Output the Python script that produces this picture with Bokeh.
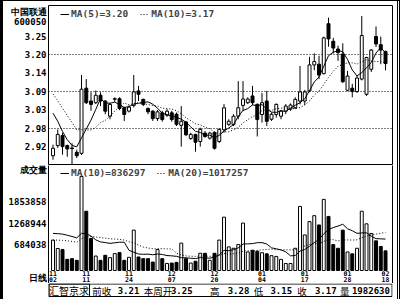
import numpy as np
from bokeh.plotting import figure
from bokeh.models import (ColumnDataSource, Range1d, FixedTicker, Legend,
                          LegendItem, LinearAxis)
from bokeh.layouts import column
from bokeh.embed import file_html
from bokeh.resources import INLINE
from bokeh.core.properties import value

# ---------------- data ----------------
stock_name = "中国联通"
stock_code = "600050"
brand = "汇智京求"
vol_title = "成交量"
period_title = "日线"

dates = ["11/02", "11/03", "11/04", "11/05", "11/08", "11/09", "11/10", "11/11", "11/12",
         "11/15", "11/16", "11/17", "11/18", "11/19", "11/22", "11/23", "11/24", "11/25",
         "11/26", "11/29", "11/30", "12/01", "12/02", "12/03", "12/06", "12/07", "12/08",
         "12/09", "12/10", "12/13", "12/14", "12/15", "12/16", "12/17", "12/20", "12/21",
         "12/22", "12/23", "12/24", "12/27", "12/28", "12/29", "12/30", "12/31", "01/04",
         "01/05", "01/06", "01/07", "01/10", "01/11", "01/12", "01/13", "01/14", "01/17",
         "01/18", "01/19", "01/20", "01/21", "01/24", "01/25", "01/26", "01/27", "01/28",
         "01/31", "02/01", "02/02", "02/03", "02/04", "02/16", "02/17", "02/18"]

opens = [2.897, 2.927, 2.957, 2.927, 2.920, 2.907, 2.904, 3.097, 3.059, 3.054,
         3.076, 3.059, 3.014, 3.064, 3.066, 3.039, 3.029, 3.046, 3.089, 3.064,
         3.037, 3.029, 3.007, 3.024, 3.017, 3.024, 3.020, 2.987, 2.997, 2.948,
         2.960, 2.939, 2.964, 2.949, 2.966, 2.939, 2.974, 2.990, 2.989, 3.014,
         3.046, 3.054, 3.074, 3.049, 3.019, 3.059, 3.005, 3.019, 3.014, 3.029,
         3.035, 3.039, 3.059, 3.059, 3.089, 3.166, 3.168, 3.140, 3.288, 3.236,
         3.213, 3.198, 3.091, 3.097, 3.087, 3.124, 3.079, 3.153, 3.250, 3.226,
         3.206]
highs = [2.930, 2.975, 2.965, 2.930, 2.934, 2.915, 3.136, 3.124, 3.085, 3.090,
         3.085, 3.062, 3.054, 3.070, 3.070, 3.042, 3.046, 3.136, 3.104, 3.066,
         3.040, 3.032, 3.032, 3.030, 3.035, 3.030, 3.025, 3.044, 3.000, 2.965,
         2.962, 2.980, 2.970, 2.968, 2.969, 2.978, 3.050, 3.005, 3.020, 3.118,
         3.118, 3.070, 3.104, 3.052, 3.083, 3.089, 3.025, 3.052, 3.032, 3.050,
         3.052, 3.070, 3.163, 3.092, 3.190, 3.200, 3.193, 3.250, 3.306, 3.246,
         3.223, 3.230, 3.148, 3.110, 3.136, 3.311, 3.190, 3.213, 3.280, 3.250,
         3.208]
lows = [2.885, 2.920, 2.900, 2.894, 2.870, 2.890, 2.899, 3.050, 3.030, 3.050,
        3.044, 3.020, 3.005, 3.056, 3.032, 3.000, 3.025, 3.040, 3.059, 3.044,
        3.020, 3.000, 3.000, 2.998, 3.012, 2.998, 2.985, 2.924, 2.955, 2.944,
        2.909, 2.924, 2.950, 2.945, 2.915, 2.935, 2.965, 2.985, 2.985, 3.005,
        3.029, 3.050, 3.047, 2.954, 2.995, 2.985, 3.000, 3.010, 3.005, 3.020,
        3.030, 3.035, 3.049, 3.047, 3.085, 3.150, 3.124, 3.138, 3.220, 3.200,
        3.178, 3.113, 3.088, 3.070, 3.083, 3.120, 3.074, 3.145, 3.219, 3.168,
        3.150]
closes = [2.919, 2.960, 2.924, 2.917, 2.918, 2.897, 3.094, 3.054, 3.049, 3.076,
          3.059, 3.029, 3.049, 3.066, 3.037, 3.019, 3.041, 3.086, 3.079, 3.049,
          3.027, 3.007, 3.027, 3.004, 3.029, 3.004, 2.990, 2.999, 2.959, 2.960,
          2.937, 2.975, 2.954, 2.964, 2.919, 2.975, 3.039, 2.999, 3.014, 3.039,
          3.065, 3.065, 3.054, 3.004, 3.054, 2.999, 3.020, 3.049, 3.029, 3.044,
          3.047, 3.064, 3.086, 3.086, 3.166, 3.176, 3.136, 3.246, 3.243, 3.216,
          3.203, 3.116, 3.133, 3.087, 3.127, 3.253, 3.188, 3.210, 3.228, 3.210,
          3.170]
volumes = [821000, 594000, 566000, 301000, 320000, 274000, 2540000, 1600000, 867000, 391000,
           274000, 410000, 347000, 456000, 483000, 274000, 356000, 1090000, 365000, 320000,
           320000, 228000, 566000, 320000, 190000, 200000, 220000, 740000, 320000, 200000,
           250000, 465000, 465000, 274000, 465000, 821000, 1440000, 638000, 600000, 700000,
           1280000, 500000, 547000, 520000, 480000, 450000, 400000, 380000, 300000, 190000,
           190000, 600000, 1730000, 960000, 1320000, 1480000, 1230000, 1920000, 1460000, 700000,
           600000, 1090000, 500000, 450000, 600000, 1600000, 1260000, 1000000, 800000, 650000,
           530000]
# sessions before the window (only feed the moving averages)
prior_closes = [3.160, 3.150, 3.130, 3.120, 3.125, 3.080, 3.074, 3.040, 3.002]
prior_volumes = [600000, 700000, 550000, 650000, 720000, 600000, 680000, 640000, 620000, 660000,
                 640000, 700000, 600000, 650000, 665000, 1300000, 1700000, 1500000, 1424000]

price_ticks = [3.25, 3.1955, 3.141, 3.0865, 3.032, 2.9775, 2.923]
price_tick_labels = ["3.25", "3.20", "3.14", "3.09", "3.03", "2.98", "2.92"]
price_grid = [3.1955, 3.0865, 2.9775]
vol_ticks = [684038, 1268944, 1853858]
date_tick_idx = [0, 7, 16, 25, 34, 44, 53, 62, 70]
price_ma_text = ["MA(5)=3.20", "MA(10)=3.17"]
vol_ma_text = ["MA(10)=836297", "MA(20)=1017257"]
status_names = ["前收", "本周开", "高", "低", "收", "量"]
status_values = ["3.21", "3.25", "3.28", "3.15", "3.17", "1982630"]


def moving_avg(prior, vals, n):
    allv = np.array(list(prior) + list(vals), dtype=float)
    off = len(prior)
    return [float(allv[off + k - n + 1: off + k + 1].mean()) for k in range(len(vals))]


# ---------------- layout / styling ----------------
W = 394
MONO = "DejaVu Sans Mono"
CJK = "Noto Sans CJK SC"
BODY_W = 0.62
PRICE_RANGE = (2.868, 3.342)
VOL_RANGE = (-351000, 2.835e6)
# vertical anchors for the captions of the left column and the date rows
name_pos = 3.324
code_pos = 3.2944
vol_caption_pos = 2.7135e6
period_caption_pos = -189000
month_row_y = -89000
day_row_y = -235000

idx = list(range(len(closes)))
up = [c >= o for o, c in zip(opens, closes)]
src = ColumnDataSource(dict(
    x=idx, o=opens, h=highs, l=lows, c=closes, v=volumes,
    top=[max(o, c) for o, c in zip(opens, closes)],
    bottom=[min(o, c) for o, c in zip(opens, closes)],
    fill=["white" if u else "black" for u in up],
))

x_range = Range1d(-0.95, 71.47)


def style_axis(ax):
    ax.major_tick_line_color = None
    ax.minor_tick_line_color = None
    ax.major_tick_out = 0
    ax.major_tick_in = 0
    ax.major_label_standoff = 2
    ax.major_label_text_font = MONO
    ax.major_label_text_font_style = "bold"
    ax.major_label_text_font_size = "9px"
    ax.major_label_text_color = "black"


# ---------------- price panel ----------------
p1 = figure(width=W, height=164, x_range=x_range, y_range=Range1d(*PRICE_RANGE),
            output_backend="svg", toolbar_location=None, x_axis_location=None,
            min_border_left=45, min_border_right=5, min_border_top=4, min_border_bottom=0,
            outline_line_color="black", outline_line_alpha=1.0,
            background_fill_color="white", border_fill_color="white")
p1.xgrid.visible = False
p1.ygrid.ticker = FixedTicker(ticks=price_grid)
p1.ygrid.grid_line_color = "black"
p1.ygrid.grid_line_dash = "1 2"
ya = p1.yaxis[0]
ya.ticker = FixedTicker(ticks=price_ticks + [name_pos, code_pos])
ovr = {t: s for t, s in zip(price_ticks, price_tick_labels)}
ovr[name_pos] = stock_name
ovr[code_pos] = stock_code
ya.major_label_overrides = ovr
ya.axis_line_color = None
style_axis(ya)

p1.segment(x0="x", y0="h", x1="x", y1="l", source=src, line_color="black", line_width=1)
p1.vbar(x="x", width=BODY_W, top="top", bottom="bottom", source=src,
        fill_color="fill", line_color="black", line_width=1)
r5 = p1.line(idx, moving_avg(prior_closes, closes, 5), line_color="black", line_width=1)
r10 = p1.line(idx, moving_avg(prior_closes, closes, 10), line_color="black",
              line_width=1, line_dash="1 2")
leg1 = Legend(items=[LegendItem(label=price_ma_text[0], renderers=[r5]),
                     LegendItem(label=price_ma_text[1], renderers=[r10])],
              orientation="horizontal", location=(12, 146), margin=0, padding=0,
              spacing=12, glyph_width=9, glyph_height=8, label_standoff=2,
              border_line_color=None, background_fill_alpha=0,
              label_text_font=MONO, label_text_font_style="bold",
              label_text_font_size="9.5px")
p1.add_layout(leg1)

# ---------------- volume panel (frame also holds the date rows) ----------------
p2 = figure(width=W, height=118, x_range=x_range, y_range=Range1d(*VOL_RANGE),
            output_backend="svg", toolbar_location=None, x_axis_location=None,
            min_border_left=45, min_border_right=5, min_border_top=0, min_border_bottom=0,
            outline_line_color=None,
            background_fill_color="white", border_fill_color="white")
p2.grid.visible = False
va = p2.yaxis[0]
va.ticker = FixedTicker(ticks=vol_ticks + [vol_caption_pos, period_caption_pos])
vovr = {t: str(t) for t in vol_ticks}
vovr[vol_caption_pos] = vol_title
vovr[period_caption_pos] = period_title
va.major_label_overrides = vovr
va.axis_line_color = "black"
style_axis(va)
ra = LinearAxis(ticker=FixedTicker(ticks=[]), axis_line_color="black",
                major_tick_line_color=None, minor_tick_line_color=None,
                major_tick_out=0, major_tick_in=0, major_label_standoff=0,
                major_label_text_font_size="0px")
p2.add_layout(ra, "right")

p2.vbar(x="x", width=BODY_W, top="v", bottom=0, source=src,
        fill_color="fill", line_color="black", line_width=1)
rv10 = p2.line(idx, moving_avg(prior_volumes, volumes, 10), line_color="black", line_width=1)
rv20 = p2.line(idx, moving_avg(prior_volumes, volumes, 20), line_color="black",
               line_width=1, line_dash="1 2")
leg2 = Legend(items=[LegendItem(label=vol_ma_text[0], renderers=[rv10]),
                     LegendItem(label=vol_ma_text[1], renderers=[rv20])],
              orientation="horizontal", location=(12, 105), margin=0, padding=0,
              spacing=12, glyph_width=9, glyph_height=8, label_standoff=2,
              border_line_color=None, background_fill_alpha=0,
              label_text_font=MONO, label_text_font_style="bold",
              label_text_font_size="9.5px")
p2.add_layout(leg2)
p2.text(x=date_tick_idx, y=[month_row_y] * len(date_tick_idx),
        text=[dates[i].split("/")[0] for i in date_tick_idx],
        text_font=value(MONO), text_font_style="bold", text_font_size="6.5px",
        text_align="center", text_baseline="middle")
p2.text(x=date_tick_idx, y=[day_row_y] * len(date_tick_idx),
        text=[dates[i].split("/")[1] for i in date_tick_idx],
        text_font=value(MONO), text_font_style="bold", text_font_size="6.5px",
        text_align="center", text_baseline="middle")

# ---------------- status bar ----------------
name_x = [50, 109, 185, 235, 285, 334]
value_x = [104, 165, 230, 279, 330, 391]
p3 = figure(width=W, height=16, x_range=Range1d(0, W), y_range=Range1d(0, 16),
            output_backend="svg", toolbar_location=None,
            x_axis_location=None, y_axis_location=None, min_border=0,
            outline_line_color=None,
            background_fill_color="white", border_fill_color="white")
p3.grid.visible = False
p3.quad(left=[0.5, 0.5], right=[W - 0.5, 47], bottom=[3, 3], top=[15.5, 15.5],
        fill_color=None, line_color="black")
p3.text(x=[23.5], y=[8.6], text=[brand], text_font=value(CJK), text_font_size="10px",
        text_align="center", text_baseline="middle")
p3.text(x=name_x, y=[8.6] * len(name_x), text=status_names, text_font=value(CJK),
        text_font_size="9.5px", text_align="left", text_baseline="middle")
p3.text(x=value_x, y=[8.6] * len(value_x), text=status_values, text_font=value(MONO),
        text_font_style="bold", text_font_size="9px", text_align="right",
        text_baseline="middle")

layout = column(p1, p2, p3, spacing=0,
                styles={"border-left": "3px solid black", "border-right": "3px double black",
                        "border-top": "1px solid black"})

open("out.html", "w").write(file_html(layout, INLINE))
